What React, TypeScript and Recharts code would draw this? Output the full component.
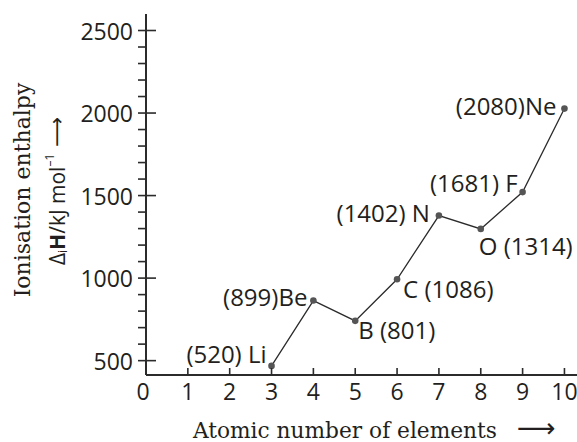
import React from "react";
import { LineChart, Line, XAxis, YAxis, LabelList } from "recharts";

// atomic number -> first ionisation enthalpy (kJ/mol), as plotted in the figure
const atomicNumbers = [3, 4, 5, 6, 7, 8, 9, 10];
const elements = ["Li", "Be", "B", "C", "N", "O", "F", "Ne"];
const plottedEnthalpy = [468, 864, 741, 993, 1379, 1298, 1521, 2027];
const pointLabels = [
  "(520) Li",
  "(899)Be",
  "B (801)",
  "C (1086)",
  "(1402) N",
  "O (1314)",
  "(1681) F",
  "(2080)Ne",
];

const xTicks = [0, 1, 2, 3, 4, 5, 6, 7, 8, 9, 10];
const yTicks = [
  500, 600, 700, 800, 900, 1000, 1100, 1200, 1300, 1400, 1500, 1600, 1700,
  1800, 1900, 2000, 2100, 2200, 2300, 2400, 2500,
];
const yMajorTicks = [500, 1000, 1500, 2000, 2500];

// where each point label sits relative to its dot
const labelPlacement: { anchor: "start" | "end"; dx: number; dy: number }[] = [
  { anchor: "end", dx: -5, dy: -3 },
  { anchor: "end", dx: -6, dy: 5 },
  { anchor: "start", dx: 3, dy: 18 },
  { anchor: "start", dx: 6, dy: 19 },
  { anchor: "end", dx: -9, dy: 6 },
  { anchor: "start", dx: -2, dy: 26 },
  { anchor: "end", dx: -5, dy: 0 },
  { anchor: "end", dx: -8, dy: 6 },
];

const INK = "#2b2b2b";
const SANS = "'Open Sans', 'Noto Sans', sans-serif";
const SERIF = "'DejaVu Serif', 'Liberation Serif', serif";

const data = atomicNumbers.map((z, i) => ({
  z,
  element: elements[i],
  h: plottedEnthalpy[i],
  label: pointLabels[i],
}));

// y tick: x arrives at the axis line (tickSize/margin 0); minors sit outside, majors cross
const YTick = (props: any) => {
  const { x, y, payload } = props;
  const major = yMajorTicks.includes(payload.value);
  return (
    <g>
      <rect x={x - 8} y={y - 0.8} width={major ? 18 : 8} height={1.6} fill={INK} />
      {major && (
        <text
          x={x - 13}
          y={y}
          textAnchor="end"
          dominantBaseline="central"
          fontFamily={SANS}
          fontSize={23}
          fill="#231f20"
        >
          {payload.value}
        </text>
      )}
    </g>
  );
};

// x tick: short mark pointing up into the plot
const XTick = (props: any) => {
  const { x, y, payload } = props;
  return (
    <g>
      {payload.value !== 0 && <rect x={x - 0.8} y={y - 7} width={1.6} height={7} fill={INK} />}
      <text
        x={payload.value === 0 ? x - 3 : x}
        y={y + 25}
        textAnchor="middle"
        fontFamily={SANS}
        fontSize={23}
        fill="#231f20"
      >
        {payload.value}
      </text>
    </g>
  );
};

const PointLabel = (props: any) => {
  const { x, y, value } = props;
  const i = pointLabels.indexOf(value);
  const p = labelPlacement[i] || { anchor: "start", dx: 0, dy: 0 };
  return (
    <text
      x={x + p.dx}
      y={y + p.dy}
      textAnchor={p.anchor}
      fontFamily={SANS}
      fontSize={24}
      fill="#231f20"
    >
      {value}
    </text>
  );
};

export default function App() {
  return (
    <div style={{ position: "absolute", left: 0, top: 0, width: 577, height: 442, background: "#fff" }}>
      <LineChart
        width={577}
        height={442}
        data={data}
        margin={{ top: 14, right: 0, bottom: 0, left: 0 }}
      >
        <XAxis
          dataKey="z"
          type="number"
          domain={[0, 10.3]}
          ticks={xTicks}
          interval={0}
          height={67}
          tickLine={false}
          tickSize={0}
          tickMargin={0}
          axisLine={{ stroke: INK, strokeWidth: 2 }}
          tick={<XTick />}
        />
        <YAxis
          type="number"
          domain={[413, 2600]}
          ticks={yTicks}
          interval={0}
          width={146}
          tickLine={false}
          tickSize={0}
          tickMargin={0}
          axisLine={{ stroke: INK, strokeWidth: 2 }}
          tick={<YTick />}
        />
        <Line
          dataKey="h"
          stroke={INK}
          strokeWidth={1.3}
          dot={{ r: 3.3, fill: "#555", stroke: "none" }}
          isAnimationActive={false}
        >
          <LabelList dataKey="label" content={<PointLabel />} />
        </Line>
      </LineChart>
      <svg
        width={577}
        height={442}
        style={{ position: "absolute", left: 0, top: 0, pointerEvents: "none" }}
      >
        <text
          transform="translate(22,190) rotate(-90)"
          textAnchor="middle"
          dominantBaseline="central"
          fontFamily={SERIF}
          fontSize={22}
          fill="#231f20"
        >
          Ionisation enthalpy
        </text>
        <text
          transform="translate(57,191) rotate(-90)"
          textAnchor="middle"
          dominantBaseline="central"
          fontFamily={SANS}
          fontSize={21}
          fill="#231f20"
        >
          Δ<tspan fontSize={12} dy={5}>i</tspan>
          <tspan fontWeight="bold" dy={-5}>H</tspan>/kJ mol
          <tspan fontSize={12} dy={-8}>–1</tspan>
          <tspan dy={8} fontFamily="'DejaVu Sans', sans-serif"> ⟶</tspan>
        </text>
        <text x={193} y={438} fontFamily={SERIF} fontSize={21.7} fill="#231f20">
          Atomic number of elements
        </text>
        <text x={517} y={437} fontFamily="'DejaVu Sans', sans-serif" fontSize={27} fill="#231f20">
          ⟶
        </text>
      </svg>
    </div>
  );
}
